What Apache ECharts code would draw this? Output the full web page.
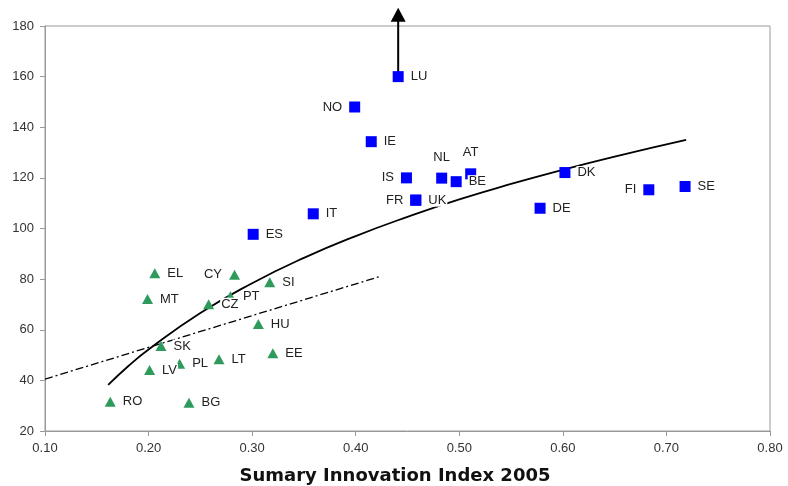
<!DOCTYPE html>
<html>
<head>
<meta charset="utf-8">
<script src="https://cdn.jsdelivr.net/npm/echarts@6/dist/echarts.min.js"></script>
<style>
  html, body { margin: 0; padding: 0; background: #fff; }
  #grafico { width: 788px; height: 486px; }
</style>
</head>
<body>
<div id="grafico"></div>
<script>
// paises "antigos" (quadrados azuis)
var nomesAzul = ['LU', 'NO', 'IE', 'IS', 'NL', 'BE', 'AT', 'FR', 'UK', 'IT', 'ES', 'DK', 'DE', 'FI', 'SE'];
var xAzul = [0.441, 0.399, 0.415, 0.449, 0.483, 0.497, 0.511, 0.458, 0.458, 0.359, 0.301, 0.602, 0.578, 0.683, 0.718];
var yAzul = [160, 148, 134.3, 120, 119.9, 118.5, 121.6, 111.2, 111.2, 105.8, 97.7, 122.1, 108, 115.3, 116.6];

// novos membros (triangulos verdes)
var nomesVerde = ['EL', 'CY', 'SI', 'MT', 'PT', 'CZ', 'HU', 'SK', 'PL', 'LT', 'EE', 'LV', 'RO', 'BG'];
var xVerde = [0.206, 0.283, 0.317, 0.199, 0.279, 0.258, 0.306, 0.212, 0.230, 0.268, 0.320, 0.201, 0.163, 0.239];
var yVerde = [82.3, 81.7, 78.8, 72.1, 73.2, 70.1, 62.3, 53.6, 46.6, 48.3, 50.7, 44.1, 31.6, 31.2];

// curva de tendencia
var xCurva = [0.161, 0.18, 0.20, 0.25, 0.30, 0.35, 0.40, 0.45, 0.50, 0.55, 0.60, 0.65, 0.719];
var yCurva = [38.2, 45.5, 52.2, 66.6, 78.4, 88.4, 97.0, 104.6, 111.5, 117.6, 123.2, 128.4, 135];

// reta traco-ponto
var xReta = [0.10, 0.423];
var yReta = [40.5, 81];

// seta do LU (valor fora da escala)
var setaLU = [[0.441, 160], [0.441, 184.4]];

var ticksX = ['0.10', '0.20', '0.30', '0.40', '0.50', '0.60', '0.70', '0.80'];
var ticksY = [20, 40, 60, 80, 100, 120, 140, 160, 180];

// posicao dos rotulos
var posRotulo = { NO: 'left', IS: 'left', FR: 'left', FI: 'left', CY: 'left', NL: 'top', AT: 'top' };

function pontos(nomes, xs, ys) {
    var lista = [];
    nomes.forEach(function (n, i) {
        var pos = posRotulo[n] || 'right';
        lista.push({
            name: n,
            value: [xs[i], ys[i]],
            label: { position: pos, distance: pos === 'top' ? 9 : 6 }
        });
    });
    return lista;
}

function pares(xs, ys) {
    return xs.map(function (x, i) { return [x, ys[i]]; });
}

var rotulo = {
    show: true,
    formatter: '{b}',
    color: '#222',
    fontSize: 13,
    fontFamily: 'Liberation Sans, Arial, sans-serif',
    backgroundColor: '#fff',
    padding: [0, 1]
};

var chartDom = document.getElementById('grafico');
var myChart = echarts.init(chartDom);

var option = {
    animation: false,
    title: {
        text: 'Sumary Innovation Index 2005',
        left: 390,
        top: 462,
        textAlign: 'center',
        textStyle: {
            fontFamily: 'DejaVu Sans, Verdana, sans-serif',
            fontWeight: 'bold',
            fontSize: 18,
            color: '#111'
        }
    },
    grid: {
        left: 45,
        right: 18,
        top: 26,
        bottom: 55,
        show: true,
        borderColor: '#999',
        borderWidth: 1
    },
    xAxis: {
        type: 'value',
        min: 0.1,
        max: 0.8,
        interval: 0.1,
        axisLine: { lineStyle: { color: '#999' } },
        axisTick: { show: true, length: 5, lineStyle: { color: '#999' } },
        splitLine: { show: false },
        axisLabel: {
            color: '#333',
            fontSize: 13,
            margin: 11,
            fontFamily: 'Liberation Sans, Arial, sans-serif',
            formatter: function (v) {
                return ticksX[Math.round((v - 0.1) * 10)];
            }
        }
    },
    yAxis: {
        type: 'value',
        min: ticksY[0],
        max: ticksY[ticksY.length - 1],
        interval: 20,
        axisLine: { show: true, lineStyle: { color: '#999' } },
        axisTick: { show: true, length: 5, lineStyle: { color: '#999' } },
        splitLine: { show: false },
        axisLabel: {
            color: '#333',
            fontSize: 13,
            margin: 11,
            fontFamily: 'Liberation Sans, Arial, sans-serif'
        }
    },
    series: [
        {
            type: 'line',
            z: 1,
            data: pares(xCurva, yCurva),
            smooth: true,
            showSymbol: false,
            symbol: 'none',
            silent: true,
            lineStyle: { color: '#000', width: 1.8 }
        },
        {
            type: 'line',
            z: 1,
            data: pares(xReta, yReta),
            showSymbol: false,
            symbol: 'none',
            silent: true,
            lineStyle: { color: '#000', width: 1.3, type: [8, 3, 2, 3] }
        },
        {
            // seta para cima do LU
            type: 'line',
            z: 2,
            clip: false,
            silent: true,
            showAllSymbol: true,
            lineStyle: { color: '#000', width: 2 },
            itemStyle: { color: '#000' },
            data: [
                { value: setaLU[0], symbol: 'none' },
                { value: setaLU[1], symbol: 'triangle', symbolSize: [15, 14] }
            ]
        },
        {
            type: 'scatter',
            z: 3,
            symbol: 'rect',
            symbolSize: 11,
            itemStyle: { color: '#0000ff', opacity: 1 },
            label: rotulo,
            data: pontos(nomesAzul, xAzul, yAzul)
        },
        {
            type: 'scatter',
            z: 3,
            symbol: 'triangle',
            symbolSize: [11, 10],
            itemStyle: { color: '#2e9a5c', opacity: 1 },
            label: rotulo,
            data: pontos(nomesVerde, xVerde, yVerde)
        }
    ]
};

option && myChart.setOption(option);
</script>
</body>
</html>
